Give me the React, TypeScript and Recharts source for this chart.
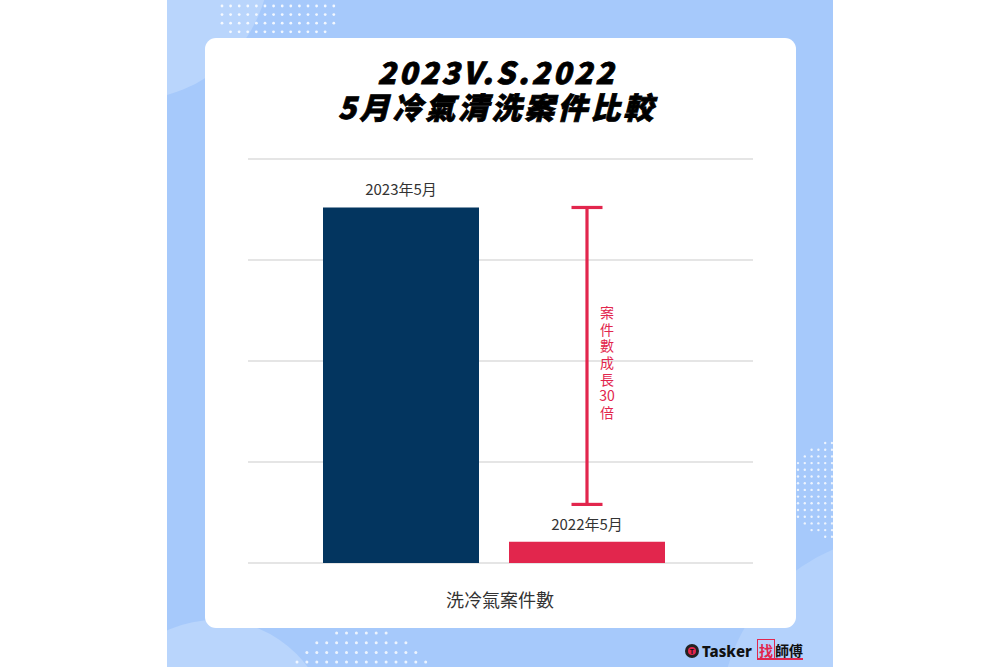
import React from 'react';
import { BarChart, Bar, XAxis, YAxis, CartesianGrid, LabelList } from 'recharts';

// ---- data ----
const categories = ['洗冷氣案件數'];
const seriesNames = ['2023年5月', '2022年5月'];
const values2023 = [352];
const values2022 = [21];
const growthRange = [58, 352]; // bottom / top of the growth bracket
const growthText = ['案', '件', '數', '成', '長', '30', '倍'];
const yTicks = [0, 100, 200, 300, 400];
const titleLines = ['2023V.S.2022', '5月冷氣清洗案件比較'];

const NAVY = '#03355f';
const RED = '#e2264d';
const CJK = '"Noto Sans CJK TC", "Noto Sans", sans-serif';

const data = categories.map((name, i) => ({
  name,
  v2023: values2023[i],
  v2022: values2022[i],
  gap: growthRange[0] - values2022[i],
  span: growthRange[1] - growthRange[0],
}));

const topLabel = (text: string) => (props: any) => {
  const vb = props.viewBox || props;
  return (
    <text
      x={vb.x + vb.width / 2}
      y={vb.y - 12}
      textAnchor="middle"
      fontSize={15}
      fill="#333"
      fontFamily={CJK}
    >
      {text}
    </text>
  );
};

const IBeam = (props: any) => {
  const { x, y, width, height } = props;
  const cx = x + width / 2;
  return (
    <g stroke={RED} strokeWidth={3.2}>
      <line x1={cx} x2={cx} y1={y} y2={y + height} />
      <line x1={cx - 15.5} x2={cx + 15.5} y1={y} y2={y} />
      <line x1={cx - 15.5} x2={cx + 15.5} y1={y + height} y2={y + height} />
    </g>
  );
};

const VerticalText = (props: any) => {
  const vb = props.viewBox || props;
  const cx = vb.x + vb.width / 2 + 20;
  const cy = vb.y + vb.height / 2 + 6;
  const pitch = 16.6;
  const start = cy - ((growthText.length - 1) / 2) * pitch;
  return (
    <text textAnchor="middle" fontSize={14} fill={RED} fontFamily={CJK}>
      {growthText.map((t, i) => (
        <tspan key={i} x={cx} y={start + i * pitch} dominantBaseline="central">
          {t}
        </tspan>
      ))}
    </text>
  );
};

const XTick = (props: any) => {
  const { x, y, payload } = props;
  return (
    <text x={x + 6} y={y} dy="0.71em" textAnchor="middle" fontSize={18} fill="#333" fontFamily={CJK}>
      {payload.value}
    </text>
  );
};

function Decorations() {
  const dots: React.ReactNode[] = [];
  // top dots
  for (let r = 0; r < 4; r++) {
    const cols = r === 3 ? 12 : 14;
    const x0 = r === 3 ? 230.5 : 222;
    for (let c = 0; c < cols; c++) {
      dots.push(<circle key={`t${r}-${c}`} cx={x0 + c * 8.6} cy={6 + r * 8.6} r={1.4} fill="#fff" opacity={0.85} />);
    }
  }
  // right dots
  for (let r = 0; r < 15; r++) {
    for (let c = 0; c < 6; c++) {
      const px = 798 + c * 6.8;
      const py = 443 + r * 6.7;
      const d = Math.hypot(px - 840, py - 490);
      if (d <= 50) dots.push(<circle key={`r${r}-${c}`} cx={px} cy={py} r={1.2} fill="#fff" opacity={0.8} />);
    }
  }
  // bottom dots
  for (let r = 0; r < 4; r++) {
    for (let c = 0; c < 14; c++) {
      const px = 297 + c * 9.9;
      const py = 633 + r * 9.7;
      const d = Math.hypot(px - 361, py - 700);
      if (d <= 75) dots.push(<circle key={`b${r}-${c}`} cx={px} cy={py} r={1.5} fill="#fff" opacity={0.8} />);
    }
  }
  return (
    <svg width={1000} height={667} style={{ position: 'absolute', left: 0, top: 0 }}>
      <defs>
        <clipPath id="panel">
          <rect x={167} y={0} width={666} height={667} />
        </clipPath>
      </defs>
      <rect x={167} y={0} width={666} height={667} fill="#a6c9fb" />
      <g clipPath="url(#panel)">
        <circle cx={130} cy={-40} r={140} fill="#b9d5fc" />
        <circle cx={215} cy={735} r={115} fill="#b9d5fc" />
        <circle cx={905} cy={720} r={185} fill="#b4d2fc" />
        {dots}
      </g>
      <rect x={205} y={38} width={591} height={590} rx={11} fill="#fff" />
    </svg>
  );
}

function Logo() {
  return (
    <div style={{ position: 'absolute', left: 684, top: 641, height: 20, display: 'flex', alignItems: 'center' }}>
      <svg width={16} height={16} style={{ marginRight: 2 }}>
        <circle cx={8} cy={8} r={7} fill="#222" />
        <circle cx={8} cy={8} r={4} fill={RED} />
        <text x={8} y={11} fontSize={7} fontWeight={700} textAnchor="middle" fill="#111" fontFamily="sans-serif">T</text>
      </svg>
      <span style={{ fontFamily: '"Noto Sans", sans-serif', fontWeight: 800, fontSize: 15, color: '#111', letterSpacing: 0 }}>
        Tasker
      </span>
      <span style={{ marginLeft: 5, fontFamily: CJK, fontWeight: 700, fontSize: 14, lineHeight: '16px', borderBottom: `2px solid ${RED}` }}>
        <span style={{ color: RED, border: `1.5px solid ${RED}`, borderBottom: 'none', padding: '0 1px' }}>找</span>
        <span style={{ color: '#111' }}>師傅</span>
      </span>
    </div>
  );
}

export default function App() {
  return (
    <div style={{ position: 'absolute', left: 0, top: 0, width: 1000, height: 667, background: '#fff', overflow: 'hidden' }}>
      <Decorations />
      <div
        style={{
          position: 'absolute',
          left: 0,
          top: 54,
          width: 994,
          textAlign: 'center',
          fontFamily: CJK,
          fontWeight: 900,
          fontStyle: 'italic',
          fontSize: 30,
          lineHeight: '35px',
          letterSpacing: 3,
          color: '#000',
          WebkitTextStroke: '0.8px #000',
        }}
      >
        {titleLines.map((t) => (
          <div key={t}>{t}</div>
        ))}
      </div>
      <div style={{ position: 'absolute', left: 228, top: 139 }}>
        <BarChart
          width={545}
          height={480}
          data={data}
          margin={{ top: 20, right: 20, left: 20, bottom: 6 }}
          barGap={30}
        >
          <CartesianGrid vertical={false} stroke="#dcdcdc" strokeWidth={1.4} />
          <XAxis
            dataKey="name"
            height={50}
            axisLine={false}
            tickLine={false}
            tickSize={0}
            tickMargin={31}
            padding={{ left: 0, right: 13 }}
            tick={<XTick />}
          />
          <YAxis hide domain={[0, 400]} ticks={yTicks} />
          <Bar dataKey="v2023" stackId="a" fill={NAVY} barSize={156} isAnimationActive={false}>
            <LabelList dataKey="v2023" content={topLabel(seriesNames[0])} />
          </Bar>
          <Bar dataKey="v2022" stackId="b" fill={RED} barSize={156} isAnimationActive={false}>
            <LabelList dataKey="v2022" content={topLabel(seriesNames[1])} />
          </Bar>
          <Bar dataKey="gap" stackId="b" fill="transparent" barSize={156} isAnimationActive={false} />
          <Bar dataKey="span" stackId="b" fill="transparent" barSize={156} shape={<IBeam />} isAnimationActive={false}>
            <LabelList dataKey="span" content={VerticalText} />
          </Bar>
        </BarChart>
      </div>
      <Logo />
    </div>
  );
}
